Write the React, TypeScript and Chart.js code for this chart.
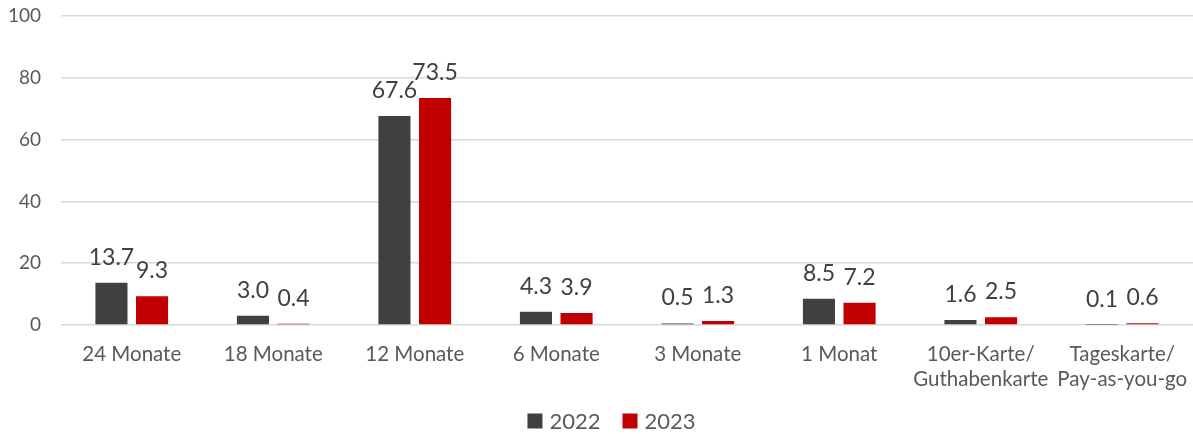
import React, { useEffect, useRef } from "react";
import { Chart, registerables } from "chart.js";

Chart.register(...registerables);

const categories: (string | string[])[] = [
  "24 Monate",
  "18 Monate",
  "12 Monate",
  "6 Monate",
  "3 Monate",
  "1 Monat",
  ["10er-Karte/", "Guthabenkarte"],
  ["Tageskarte/", "Pay-as-you-go"],
];
const series2022 = [13.7, 3.0, 67.6, 4.3, 0.5, 8.5, 1.6, 0.1];
const series2023 = [9.3, 0.4, 73.5, 3.9, 1.3, 7.2, 2.5, 0.6];
const seriesLabels = ["2022", "2023"];
const seriesColors = ["#404040", "#C00000"];
const yTicks = [0, 20, 40, 60, 80, 100];

const FONT = "Lato, 'Noto Sans', sans-serif";

const dataLabelPlugin = {
  id: "dataLabels",
  afterDatasetsDraw(chart: any) {
    const ctx = chart.ctx;
    ctx.save();
    ctx.font = `23px ${FONT}`;
    ctx.fillStyle = "#404040";
    ctx.textAlign = "center";
    ctx.textBaseline = "alphabetic";
    chart.data.datasets.forEach((ds: any, di: number) => {
      const meta = chart.getDatasetMeta(di);
      meta.data.forEach((bar: any, i: number) => {
        const v = ds.data[i];
        ctx.fillText(v.toFixed(1), bar.x, bar.y - 18);
      });
    });
    ctx.restore();
  },
};

const legendPlugin = {
  id: "customLegend",
  afterDraw(chart: any) {
    const ctx = chart.ctx;
    ctx.save();
    ctx.font = `22px ${FONT}`;
    ctx.textBaseline = "middle";
    ctx.textAlign = "left";
    const box = 15;
    const gapBoxText = 7;
    const gapItems = 22;
    const items = chart.data.datasets.map((ds: any) => ({
      label: ds.label,
      color: ds.backgroundColor,
      w: box + gapBoxText + ctx.measureText(ds.label).width,
    }));
    const total =
      items.reduce((s: number, it: any) => s + it.w, 0) + gapItems * (items.length - 1);
    let x = chart.width / 2 - total / 2 + 15;
    const cy = 421;
    items.forEach((it: any) => {
      ctx.fillStyle = it.color;
      ctx.fillRect(x, cy - box / 2, box, box);
      ctx.fillStyle = "#595959";
      ctx.fillText(it.label, x + box + gapBoxText, cy + 1);
      x += it.w + gapItems;
    });
    ctx.restore();
  },
};

export default function App() {
  const ref = useRef<HTMLCanvasElement | null>(null);
  useEffect(() => {
    if (!ref.current) return;
    const chart = new Chart(ref.current, {
      type: "bar",
      data: {
        labels: categories,
        datasets: [
          {
            label: seriesLabels[0],
            data: series2022,
            backgroundColor: seriesColors[0],
            categoryPercentage: 0.574,
            barPercentage: 0.79,
          },
          {
            label: seriesLabels[1],
            data: series2023,
            backgroundColor: seriesColors[1],
            categoryPercentage: 0.574,
            barPercentage: 0.79,
          },
        ],
      },
      options: {
        animation: false,
        responsive: true,
        maintainAspectRatio: false,
        layout: { padding: { top: 16, right: 0, bottom: 39, left: 0 } },
        plugins: {
          legend: { display: false },
          tooltip: { enabled: false },
        },
        scales: {
          x: {
            grid: { display: false },
            border: { display: false },
            ticks: {
              color: "#595959",
              font: { family: FONT, size: 20.5 },
              padding: 9,
              maxRotation: 0,
              autoSkip: false,
            },
            afterFit(scale: any) {
              scale.height = 70;
              scale.paddingTop = 0;
              scale.paddingLeft = 0;
              scale.paddingRight = 0;
            },
          },
          y: {
            min: 0,
            max: 100,
            afterBuildTicks(scale: any) {
              scale.ticks = yTicks.map((v) => ({ value: v }));
            },
            grid: { color: "#d9d9d9", lineWidth: 1.5, drawTicks: false },
            border: { display: false },
            ticks: {
              color: "#595959",
              font: { family: FONT, size: 19 },
              padding: 20,
            },
            afterFit(scale: any) {
              scale.width = 61;
              scale.paddingTop = 0;
              scale.paddingBottom = 0;
            },
          },
        },
      },
      plugins: [dataLabelPlugin, legendPlugin],
    });
    return () => chart.destroy();
  }, []);
  return (
    <div style={{ position: "absolute", left: 0, top: 0, width: 1193, height: 434 }}>
      <canvas ref={ref} />
    </div>
  );
}
